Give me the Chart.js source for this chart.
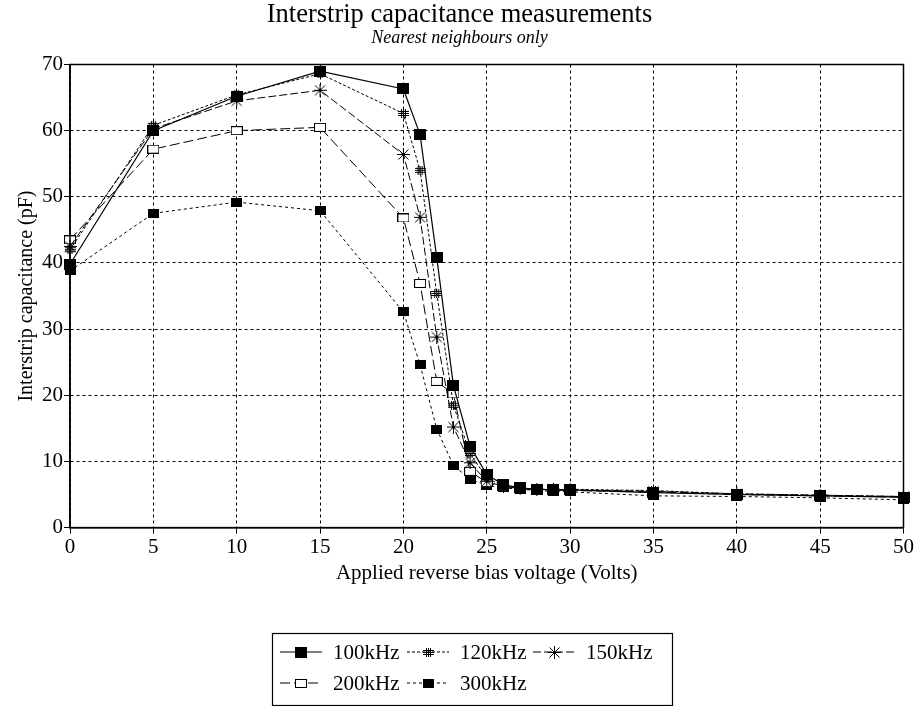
<!DOCTYPE html>
<html lang="en">
<head>
<meta charset="UTF-8">
<title>Interstrip capacitance measurements</title>
<script src="https://cdn.jsdelivr.net/npm/chart.js@4"></script>
<style>
    html, body { margin: 0; padding: 0; background: #fff; }
    #wrap { width: 915px; height: 706px; }
</style>
</head>
<body>
<div id="wrap"><canvas id="chart" width="915" height="706"></canvas></div>
<script>
// bias voltage (V)
const voltages = [0, 5, 10, 15, 20, 21, 22, 23, 24, 25, 26, 27, 28, 29, 30, 35, 40, 45, 50];
// capacitance (pF) per measuring frequency
const cap100 = [39.8, 60.0, 65.2, 69.0, 66.3, 59.4, 40.8, 21.5, 12.3, 8.0, 6.5, 6.0, 5.8, 5.7, 5.7, 5.3, 5.0, 4.8, 4.6];
const cap120 = [42.0, 60.8, 65.4, 68.6, 62.6, 54.0, 35.4, 18.5, 11.2, 7.5, 6.3, 5.9, 5.8, 5.7, 5.8, 5.6, 5.1, 4.9, 4.7];
const cap150 = [42.5, 60.3, 64.5, 66.1, 56.4, 46.9, 28.8, 15.2, 9.8, 7.0, 6.2, 5.9, 5.8, 5.8, 5.7, 5.5, 5.1, 4.9, 4.7];
const cap200 = [43.5, 57.2, 60.0, 60.5, 46.8, 36.9, 22.1, 20.2, 8.5, 6.8, 6.2, 5.9, 5.8, 5.7, 5.6, 5.4, 5.0, 4.8, 4.6];
const cap300 = [38.8, 47.5, 49.2, 47.9, 32.6, 24.6, 14.9, 9.4, 7.3, 6.4, 6.0, 5.8, 5.6, 5.5, 5.4, 4.8, 4.7, 4.5, 4.2];
const seriesLabels = ['100kHz', '120kHz', '150kHz', '200kHz', '300kHz'];
const xTicks = { min: 0, max: 50, step: 5 };
const yTicks = { min: 0, max: 70, step: 10 };

const SERIF = "'Liberation Serif', 'DejaVu Serif', serif";

// little marker images
function marker(w, h, draw) {
    const c = document.createElement('canvas');
    c.width = w; c.height = h;
    const g = c.getContext('2d');
    g.strokeStyle = '#000';
    g.fillStyle = '#000';
    g.lineWidth = 1;
    draw(g, w, h);
    return c;
}
const sqBig = marker(12, 11, (g, w, h) => g.fillRect(0, 0, w, h));
const sqSmall = marker(11, 9, (g, w, h) => g.fillRect(0, 0, w, h));
const sqOpen = marker(12, 9, (g, w, h) => {
    g.fillStyle = '#fff'; g.fillRect(0, 0, w, h);
    g.strokeRect(0.5, 0.5, w - 1, h - 1);
});
const hash = marker(11, 9, (g, w, h) => {
    g.beginPath();
    [3.5, 5.5, 7.5].forEach(x => { g.moveTo(x, 0); g.lineTo(x, h); });
    [2.5, 4.5, 6.5].forEach(y => { g.moveTo(0, y); g.lineTo(w, y); });
    g.stroke();
});
const star = marker(13, 13, (g, w, h) => {
    g.beginPath();
    g.moveTo(6.5, 0); g.lineTo(6.5, 13);
    g.moveTo(0, 6.5); g.lineTo(13, 6.5);
    g.moveTo(1.5, 1.5); g.lineTo(11.5, 11.5);
    g.moveTo(11.5, 1.5); g.lineTo(1.5, 11.5);
    g.stroke();
});

const styles = [
    { img: sqBig, dash: [], width: 1.2 },
    { img: hash, dash: [3, 2], width: 1 },
    { img: star, dash: [8, 3], width: 1 },
    { img: sqOpen, dash: [10, 4], width: 1 },
    { img: sqSmall, dash: [3, 3], width: 1 }
];
const values = [cap100, cap120, cap150, cap200, cap300];

const datasets = values.map((vals, i) => ({
    label: seriesLabels[i],
    data: voltages.map((v, j) => ({ x: v, y: vals[j] })),
    borderColor: '#000',
    borderWidth: styles[i].width,
    borderDash: styles[i].dash,
    pointStyle: styles[i].img,
    pointRadius: 6,
    tension: 0,
    fill: false,
    clip: false
}));

// solid frame round the plot
const frame = {
    id: 'frame',
    afterDatasetsDraw(chart) {
        const a = chart.chartArea, ctx = chart.ctx;
        ctx.save();
        ctx.strokeStyle = '#000';
        ctx.lineWidth = 1.5;
        ctx.setLineDash([]);
        ctx.strokeRect(a.left, a.top, a.right - a.left, a.bottom - a.top);
        ctx.restore();
    }
};

// boxed legend under the plot
const boxLegend = {
    id: 'boxLegend',
    afterDraw(chart) {
        const ctx = chart.ctx;
        const box = { x: 272, y: 633, w: 400, h: 72 };
        const cols = [280, 407, 533];
        const rows = [652, 683];
        ctx.save();
        ctx.strokeStyle = '#000';
        ctx.lineWidth = 1.2;
        ctx.strokeRect(box.x + 0.5, box.y + 0.5, box.w, box.h);
        ctx.font = '21px ' + SERIF;
        ctx.fillStyle = '#000';
        ctx.textBaseline = 'middle';
        chart.data.datasets.forEach((ds, i) => {
            const x = cols[i % 3], y = rows[Math.floor(i / 3)];
            const st = styles[i];
            ctx.beginPath();
            ctx.setLineDash(st.dash);
            ctx.lineWidth = st.width;
            ctx.moveTo(x, y);
            ctx.lineTo(x + 42, y);
            ctx.stroke();
            ctx.setLineDash([]);
            ctx.drawImage(st.img, Math.round(x + 21 - st.img.width / 2), Math.round(y - st.img.height / 2));
            ctx.fillText(ds.label, x + 53, y + 1);
        });
        ctx.restore();
    }
};

const axisCommon = {
    type: 'linear',
    grid: {
        color: '#000',
        lineWidth: 1,
        tickLength: 6,
        tickColor: '#000',
        tickBorderDash: []
    },
    border: { display: true, color: '#000', width: 1.5, dash: [3, 3] }
};

new Chart(document.getElementById('chart'), {
    type: 'line',
    data: { datasets },
    plugins: [frame, boxLegend],
    options: {
        responsive: false,
        animation: false,
        devicePixelRatio: 1,
        layout: { padding: { left: 15, right: 11, top: 2, bottom: 120 } },
        plugins: {
            legend: { display: false },
            tooltip: { enabled: false },
            title: {
                display: true,
                text: 'Interstrip capacitance measurements',
                color: '#000',
                font: { family: SERIF, size: 26.5, weight: 'normal', lineHeight: 1 },
                padding: { top: 0, bottom: 1 }
            },
            subtitle: {
                display: true,
                text: 'Nearest neighbours only',
                color: '#000',
                font: { family: SERIF, size: 18, style: 'italic', lineHeight: 1 },
                padding: { top: 0, bottom: 17 }
            }
        },
        scales: {
            x: {
                ...axisCommon,
                min: xTicks.min,
                max: xTicks.max,
                ticks: {
                    stepSize: xTicks.step,
                    color: '#000',
                    maxRotation: 0,
                    padding: 1,
                    font: { family: SERIF, size: 21 }
                },
                title: {
                    display: true,
                    text: 'Applied reverse bias voltage (Volts)',
                    color: '#000',
                    font: { family: SERIF, size: 21 },
                    padding: { top: 0, bottom: 0 }
                }
            },
            y: {
                ...axisCommon,
                min: yTicks.min,
                max: yTicks.max,
                ticks: {
                    stepSize: yTicks.step,
                    color: '#000',
                    padding: 1,
                    font: { family: SERIF, size: 21 }
                },
                title: {
                    display: true,
                    text: 'Interstrip capacitance (pF)',
                    color: '#000',
                    font: { family: SERIF, size: 20 },
                    padding: { top: 0, bottom: 2 }
                }
            }
        }
    }
});
</script>
</body>
</html>
